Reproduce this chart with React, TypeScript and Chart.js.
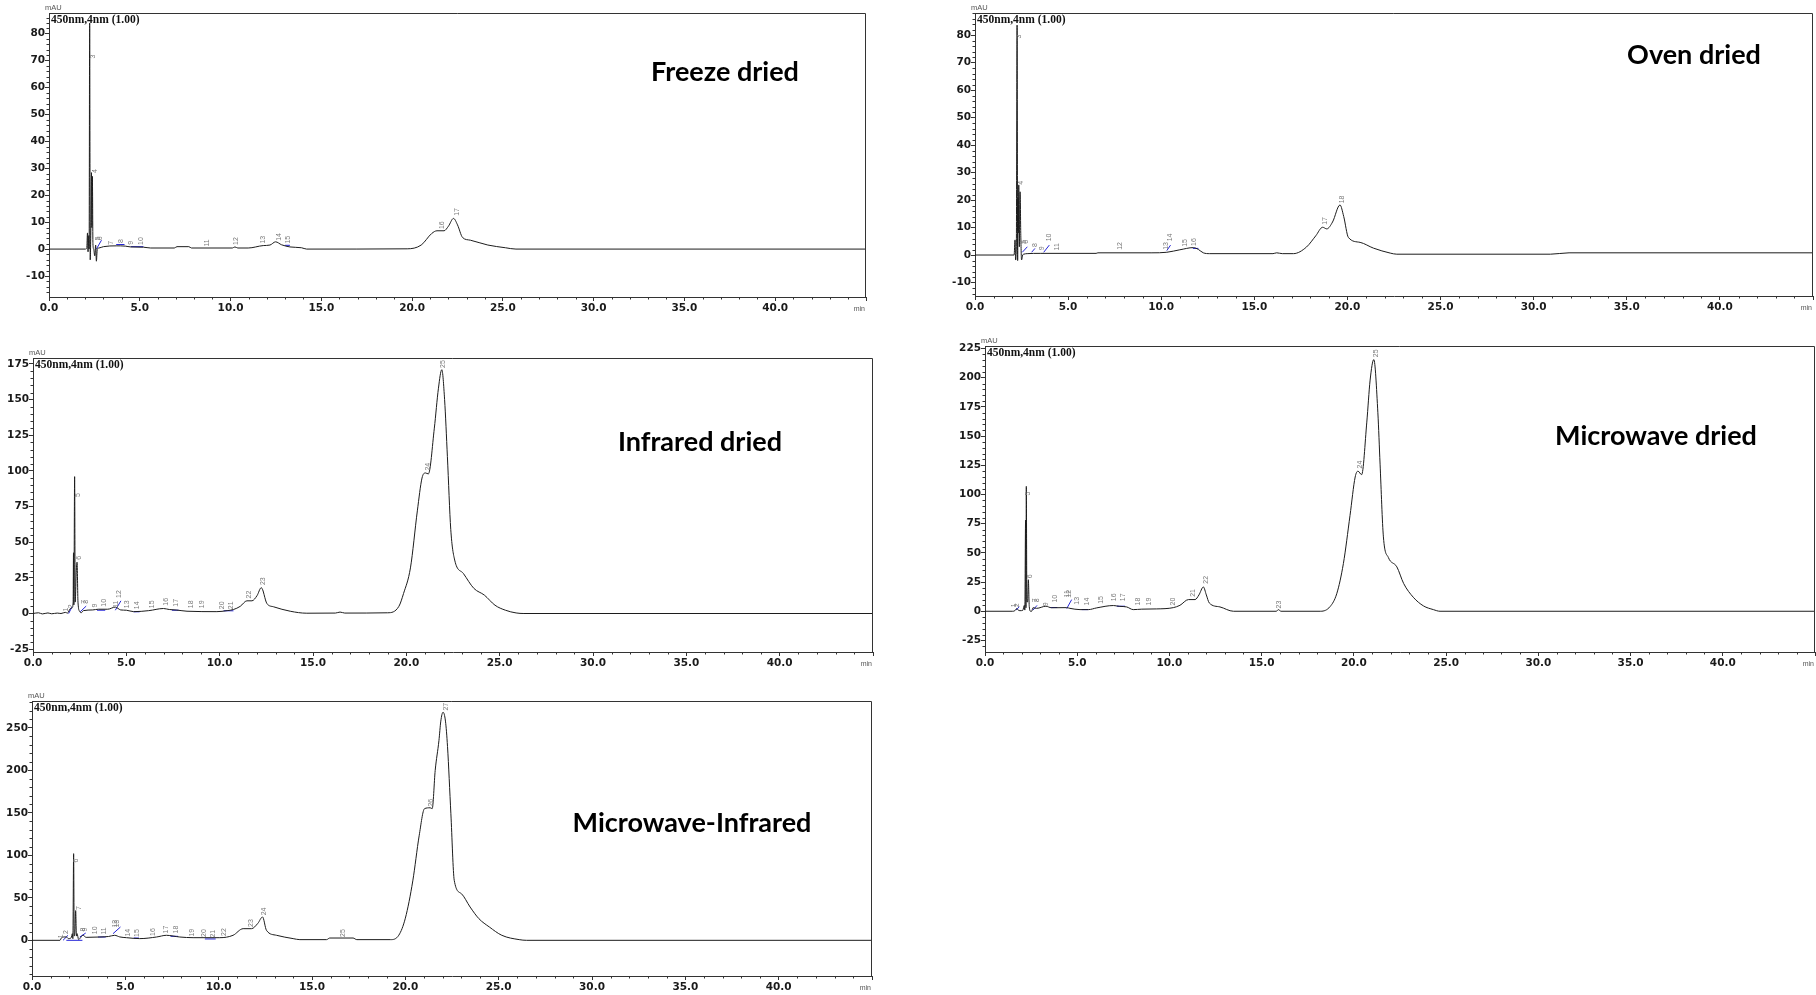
import React, { useEffect, useRef } from "react";
import { Chart, registerables } from "chart.js";
Chart.register(...registerables);

// ---------------- Freeze dried ----------------
const freezeTime = [0, 2.0, 2.08, 2.12, 2.15, 2.19, 2.21, 2.24, 2.27, 2.31, 2.34, 2.36, 2.39, 2.42, 2.46, 2.52, 2.57, 2.61, 2.66, 2.75, 3.0, 3.7, 4.2, 4.5, 5.2, 5.6, 6.9, 7.05, 7.7, 7.85, 10.1, 10.24, 10.4, 10.97, 11.8, 12.17, 12.48, 12.81, 13.27, 13.91, 14.19, 19.73, 20.5, 21.08, 21.37, 21.76, 22.0, 22.28, 22.5, 22.78, 23.21, 24.17, 25.14, 25.72, 45];
const freezeAbs = [0, 0, 0.3, 6, -1, 5, 0, 84, -4, 10, 28.4, 8, 27, 2, 0, -2.5, 1.5, -4.5, 0, 0.4, 0.9, 1.2, 1.1, 0.8, 0.7, 0.4, 0.4, 0.9, 0.9, 0.4, 0.4, 0.8, 0.4, 0.4, 1.3, 1.5, 2.7, 1.6, 0.8, 0.5, 0, 0.1, 1.5, 5.8, 6.8, 6.8, 8.5, 11.4, 9, 4.3, 3.3, 1.5, 0.5, 0, 0];
const freezeSegT0 = [2.61, 3.7, 4.5, 13.0];
const freezeSegT1 = [2.89, 4.16, 5.2, 13.27];
const freezeSegV0 = [0, 1.7, 0.9, 1.4];
const freezeSegV1 = [3.3, 1.7, 0.9, 1.4];
const freezePeakId = ["3", "4", "5", "6", "7", "8", "9", "10", "11", "12", "13", "14", "15", "16", "17"];
const freezePeakTime = [2.43, 2.52, 2.72, 2.8, 3.44, 3.95, 4.54, 5.09, 8.68, 10.33, 11.8, 12.66, 13.18, 21.66, 22.48];
const freezePeakAbs = [71.5, 29, 4, 4, 2.3, 3, 2.3, 3, 2.3, 3, 3.5, 4.5, 3.5, 8.9, 13.8];

// ---------------- Oven dried ----------------
const ovenTime = [0, 2.1, 2.15, 2.18, 2.22, 2.26, 2.29, 2.31, 2.33, 2.35, 2.38, 2.42, 2.46, 2.5, 2.56, 2.62, 2.8, 3.5, 6.5, 6.6, 9.5, 10.3, 11.0, 11.73, 12.0, 12.26, 12.6, 16.0, 16.2, 16.5, 17.1, 17.8, 18.3, 18.67, 18.89, 19.2, 19.6, 19.8, 20.05, 20.68, 21.4, 22.3, 22.65, 30.9, 31.9, 45];
const ovenAbs = [0, 0, 5.5, -1.8, 3, 83.6, -2, 20.7, 8, 25.5, 3, 23, 7, -1.8, 0, 0.3, 0.5, 0.6, 0.6, 0.8, 0.8, 1.0, 1.9, 2.7, 2, 0.8, 0.5, 0.5, 0.8, 0.5, 0.5, 2.9, 7, 10.1, 9.5, 12, 18.2, 14, 6.4, 4.6, 2.5, 0.7, 0.3, 0.3, 0.8, 0.8];
const ovenSegT0 = [2.54, 3.04, 3.69, 10.3, 11.7];
const ovenSegT1 = [2.81, 3.22, 3.99, 10.5, 12.0];
const ovenSegV0 = [1, 1, 1, 1.6, 2.4];
const ovenSegV1 = [3, 2.4, 3.6, 3.6, 2.4];
const ovenPeakId = ["3", "4", "5", "6", "8", "9", "10", "11", "12", "13", "14", "15", "16", "17", "18"];
const ovenPeakTime = [2.37, 2.46, 2.64, 2.74, 3.21, 3.62, 3.98, 4.43, 7.8, 10.25, 10.47, 11.29, 11.74, 18.82, 19.72];
const ovenPeakAbs = [79.4, 26.3, 4.8, 4.8, 3.6, 2.4, 6.4, 3, 3.3, 3.3, 6.4, 4.4, 4.7, 12.4, 20.2];

// ---------------- Infrared dried ----------------
const infraTime = [0, 0.3, 0.5, 0.8, 1.0, 1.3, 1.5, 1.73, 1.85, 2.0, 2.1, 2.15, 2.17, 2.19, 2.23, 2.26, 2.32, 2.36, 2.41, 2.5, 2.58, 2.7, 3.2, 3.5, 4.0, 4.41, 4.7, 5.0, 5.39, 6.2, 6.99, 7.3, 7.71, 8.25, 9.85, 10.4, 10.74, 11.1, 11.46, 11.73, 12.0, 12.23, 12.53, 12.89, 13.78, 14.67, 16.2, 16.45, 16.7, 19.0, 19.6, 19.85, 20.22, 20.59, 20.84, 21.02, 21.18, 21.5, 21.72, 21.9, 22.05, 22.2, 22.38, 22.59, 23.06, 23.62, 24.18, 24.75, 25.31, 25.88, 26.3, 45];
const infraAbs = [0, 0.5, -0.3, 0.4, -0.2, 0.3, 0, 0.8, 0.3, 3.5, 4, 8, 42.6, 6, 96, 8, 30, 36, 8, 1.5, 0.5, 2, 2.5, 3, 3, 4.5, 2.5, 2.3, 1.3, 2, 3.5, 2.8, 2.4, 1.6, 1.3, 2, 2.8, 5, 8.9, 8.9, 12.5, 18.1, 7, 4.7, 1.6, 0.2, 0.3, 1, 0.3, 0.5, 5, 14, 32, 72, 95, 98.6, 97.9, 130, 158, 171, 150, 110, 59, 37.5, 28, 17.6, 12.9, 5.8, 2.3, 0.4, 0, 0];
const infraSegT0 = [1.91, 2.53, 3.43, 4.41, 5.39, 7.44, 10.21];
const infraSegT1 = [2.09, 2.85, 3.87, 4.71, 5.71, 7.8, 10.74];
const infraSegV0 = [0, 1.2, 2.3, 2.3, 1.2, 2.3, 1.9];
const infraSegV1 = [4.7, 5.2, 2.3, 8.9, 1.2, 2.3, 1.9];
const infraPeakId = ["1", "2", "5", "6", "7", "8", "9", "10", "11", "12", "13", "14", "15", "16", "17", "18", "19", "20", "21", "22", "23", "24", "25"];
const infraPeakTime = [1.77, 2.03, 2.39, 2.46, 2.72, 2.82, 3.34, 3.82, 4.44, 4.62, 5.03, 5.57, 6.37, 7.12, 7.66, 8.48, 9.08, 10.12, 10.62, 11.58, 12.32, 21.14, 21.98];
const infraPeakAbs = [2.8, 5.1, 83, 39, 8.2, 8.2, 5.6, 7.5, 6.5, 13.6, 6.5, 5.8, 6.5, 8.2, 7.5, 6.5, 6.5, 5.8, 5.8, 13.3, 22.7, 103, 175];

// ---------------- Microwave dried ----------------
const microTime = [0, 1.5, 1.62, 1.72, 1.8, 1.9, 2.05, 2.13, 2.16, 2.2, 2.22, 2.24, 2.27, 2.31, 2.35, 2.4, 2.47, 2.53, 2.6, 2.8, 3.3, 3.6, 4.43, 4.6, 5.15, 5.6, 6.06, 6.96, 7.3, 7.68, 8.04, 8.5, 9.31, 10.21, 10.57, 11.03, 11.39, 11.6, 11.84, 12.0, 12.16, 12.74, 13.47, 15.8, 15.9, 16.05, 18.2, 18.71, 19.07, 19.43, 19.79, 20.07, 20.22, 20.42, 20.7, 20.88, 21.08, 21.3, 21.42, 21.6, 21.87, 22.33, 22.7, 23.22, 23.77, 24.31, 24.67, 45];
const microAbs = [0, 0, 0.5, 2.3, 1, 0.5, 0.8, 5, 1, 78, 3, 107, 8, 8, 27, 4, 0, 0, 3, 2.5, 4.3, 3, 3.1, 2.5, 1.4, 1.4, 2.9, 4.9, 4.2, 3.7, 1.4, 1.8, 2, 3.1, 5.1, 10, 10, 14, 20.8, 14, 7.1, 3.7, 0, 0, 1.4, 0, 0, 4, 15, 40.8, 82, 115, 120, 117, 162, 198, 215.6, 170, 126, 63.7, 46, 38, 23.7, 12, 4.6, 1.4, 0, 0];
const microSegT0 = [1.68, 2.6, 3.56, 4.43, 5.24, 7.14];
const microSegT1 = [1.86, 2.82, 3.92, 4.7, 5.6, 7.59];
const microSegV0 = [1, 1, 3.2, 2.3, 1.4, 4.3];
const microSegV1 = [3.8, 5, 3.2, 10, 1.4, 4.3];
const microPeakId = ["1", "2", "5", "6", "7", "8", "9", "10", "11", "12", "13", "14", "15", "16", "17", "18", "19", "20", "21", "22", "23", "24", "25"];
const microPeakTime = [1.6, 1.72, 2.35, 2.44, 2.7, 2.8, 3.31, 3.8, 4.46, 4.58, 4.97, 5.52, 6.27, 7.0, 7.5, 8.28, 8.89, 10.18, 11.26, 11.98, 15.96, 20.34, 21.19];
const microPeakAbs = [5.1, 5.1, 100.8, 30, 9.4, 9.4, 6, 10.8, 15, 15, 9, 8.3, 9.7, 12, 12, 8.3, 8.3, 8.3, 15.7, 27, 5.7, 125.6, 221];

// ---------------- Microwave-Infrared ----------------
const mirTime = [0, 1.5, 1.58, 1.7, 1.84, 1.95, 2.1, 2.16, 2.19, 2.23, 2.26, 2.3, 2.34, 2.38, 2.41, 2.5, 2.56, 2.73, 2.9, 3.63, 4.1, 4.43, 4.7, 5.06, 5.77, 6.67, 7.2, 7.92, 8.63, 10.06, 10.77, 11.31, 11.76, 12.1, 12.35, 12.56, 13.1, 13.99, 14.35, 15.78, 15.95, 17.2, 17.4, 19.2, 19.65, 20.0, 20.4, 20.74, 21.03, 21.33, 21.44, 21.6, 21.8, 21.9, 22.02, 22.15, 22.26, 22.44, 22.62, 23.0, 23.47, 23.94, 24.5, 25.17, 26.1, 26.5, 45];
const mirAbs = [0, 0, 3, 3.9, 4, 2, 3, 7.8, 2, 102, 5, 10, 35, 5, 8, 1, 2, 6, 3.5, 3.9, 4.5, 5.9, 4, 3.1, 2, 3.9, 5.9, 3.9, 3.1, 3.1, 5.9, 13.7, 13.7, 20, 27.5, 11.8, 5.9, 2, 0.8, 0.8, 2.7, 2.7, 0.8, 0.8, 6, 26, 70, 123, 155, 156, 155, 200, 235, 258, 268.5, 258, 228, 149, 70.6, 55, 39.2, 25.5, 15.7, 5.9, 0.8, 0, 0];
const mirSegT0 = [1.66, 1.84, 2.56, 3.54, 4.34, 5.45, 7.42, 9.26];
const mirSegT1 = [1.93, 2.7, 2.88, 3.95, 4.74, 5.73, 7.82, 9.84];
const mirSegV0 = [0, 0, 3.9, 3.9, 7.8, 2.7, 4.7, 1.6];
const mirSegV1 = [5.9, 0, 8.6, 3.9, 15.7, 2.7, 4.7, 1.6];
const mirPeakId = ["1", "2", "6", "7", "8", "9", "10", "11", "12", "13", "14", "15", "16", "17", "18", "19", "20", "21", "22", "23", "24", "25", "26", "27"];
const mirPeakTime = [1.58, 1.84, 2.38, 2.5, 2.72, 2.82, 3.36, 3.86, 4.46, 4.58, 5.14, 5.63, 6.48, 7.2, 7.74, 8.57, 9.2, 9.7, 10.29, 11.72, 12.43, 16.67, 21.38, 22.2];
const mirPeakAbs = [4.7, 9.8, 94, 38, 12.6, 12.6, 11.8, 11, 19.6, 19.6, 9, 8.6, 9.8, 12.6, 12.6, 9, 8.6, 7.8, 9.8, 20.4, 34, 8.6, 162, 275];

const headerText = "450nm,4nm (1.00)";

type PanelSpec = {
  title: string;
  time: number[]; abs: number[];
  segT0: number[]; segT1: number[]; segV0: number[]; segV1: number[];
  peakId: string[]; peakTime: number[]; peakAbs: number[];
  yMin: number; yMax: number; yStep: number; yMinor: number;
  L: number; T: number; R: number; B: number; yw: number; xh: number;
  titleX: number; titleY: number;
};

const panels: PanelSpec[] = [
  { title: "Freeze dried", time: freezeTime, abs: freezeAbs, segT0: freezeSegT0, segT1: freezeSegT1, segV0: freezeSegV0, segV1: freezeSegV1, peakId: freezePeakId, peakTime: freezePeakTime, peakAbs: freezePeakAbs, yMin: -17.8, yMax: 87.7, yStep: 10, yMinor: 2, L: 49, T: 13, R: 866, B: 297, yw: 49, xh: 28, titleX: 725, titleY: 71 },
  { title: "Oven dried", time: ovenTime, abs: ovenAbs, segT0: ovenSegT0, segT1: ovenSegT1, segV0: ovenSegV0, segV1: ovenSegV1, peakId: ovenPeakId, peakTime: ovenPeakTime, peakAbs: ovenPeakAbs, yMin: -14.9, yMax: 88, yStep: 10, yMinor: 2, L: 975, T: 13, R: 1813, B: 296, yw: 45, xh: 28, titleX: 1694, titleY: 54 },
  { title: "Infrared dried", time: infraTime, abs: infraAbs, segT0: infraSegT0, segT1: infraSegT1, segV0: infraSegV0, segV1: infraSegV1, peakId: infraPeakId, peakTime: infraPeakTime, peakAbs: infraPeakAbs, yMin: -27, yMax: 179.2, yStep: 25, yMinor: 5, L: 33, T: 358, R: 873, B: 652, yw: 33, xh: 28, titleX: 700, titleY: 441 },
  { title: "Microwave dried", time: microTime, abs: microAbs, segT0: microSegT0, segT1: microSegT1, segV0: microSegV0, segV1: microSegV1, peakId: microPeakId, peakTime: microPeakTime, peakAbs: microPeakAbs, yMin: -34.9, yMax: 227.2, yStep: 25, yMinor: 5, L: 985, T: 346, R: 1815, B: 652, yw: 45, xh: 28, titleX: 1656, titleY: 435 },
  { title: "Microwave-Infrared", time: mirTime, abs: mirAbs, segT0: mirSegT0, segT1: mirSegT1, segV0: mirSegV0, segV1: mirSegV1, peakId: mirPeakId, peakTime: mirPeakTime, peakAbs: mirPeakAbs, yMin: -42, yMax: 281.7, yStep: 50, yMinor: 10, L: 32, T: 701, R: 872, B: 976, yw: 32, xh: 19, titleX: 692, titleY: 822 },
];

const X_MAX = 45;
const PAD_TOP = 13;
const PAD_RIGHT = 1;
const tickFont = { family: "'DejaVu Sans'", size: 10.5, weight: "bold" as const };

function Panel({ spec }: { spec: PanelSpec }) {
  const ref = useRef<HTMLCanvasElement>(null);
  const w = spec.R - spec.L + spec.yw + PAD_RIGHT;
  const h = spec.B - spec.T + PAD_TOP + spec.xh;

  useEffect(() => {
    if (!ref.current) return;
    const main = spec.time.map((t, i) => ({ x: t, y: spec.abs[i] }));
    const segs: { x: number; y: number | null }[] = [];
    spec.segT0.forEach((t0, i) => {
      segs.push({ x: t0, y: spec.segV0[i] });
      segs.push({ x: spec.segT1[i], y: spec.segV1[i] });
      segs.push({ x: spec.segT1[i], y: null });
    });

    const decor = {
      id: "decor",
      afterDatasetsDraw(chart: any) {
        const { ctx, chartArea: a, scales } = chart;
        const xs = scales.x, ys = scales.y;
        ctx.save();
        // peak labels
        ctx.font = "7px 'Liberation Sans'";
        ctx.fillStyle = "#7a7a7a";
        ctx.textAlign = "center";
        ctx.textBaseline = "middle";
        spec.peakId.forEach((id, i) => {
          const px = xs.getPixelForValue(spec.peakTime[i]);
          const py = ys.getPixelForValue(spec.peakAbs[i]);
          ctx.save();
          ctx.translate(px, py);
          ctx.rotate(-Math.PI / 2);
          ctx.fillText(id, 0, 0);
          ctx.restore();
        });
        ctx.restore();
      },
      afterDraw(chart: any) {
        const { ctx, chartArea: a, scales } = chart;
        const xs = scales.x, ys = scales.y;
        ctx.save();
        ctx.strokeStyle = "#333";
        ctx.lineWidth = 1;
        ctx.beginPath();
        const top = Math.round(a.top) + 0.5;
        const right = Math.round(a.right) - 0.5;
        ctx.moveTo(a.left, top);
        ctx.lineTo(right, top);
        ctx.moveTo(right, top);
        ctx.lineTo(right, a.bottom);
        // minor x ticks
        for (let v = 1; v < X_MAX; v += 1) {
          if (v % 5 === 0) continue;
          const px = Math.round(xs.getPixelForValue(v)) + 0.5;
          ctx.moveTo(px, a.bottom);
          ctx.lineTo(px, a.bottom + 2.5);
        }
        // minor y ticks
        const start = Math.ceil(spec.yMin / spec.yMinor) * spec.yMinor;
        for (let v = start; v <= spec.yMax + 1e-9; v += spec.yMinor) {
          const r = Math.abs(v % spec.yStep);
          if (r < 1e-6 || Math.abs(r - spec.yStep) < 1e-6) continue;
          const py = Math.round(ys.getPixelForValue(v)) + 0.5;
          ctx.moveTo(a.left - 2.5, py);
          ctx.lineTo(a.left, py);
        }
        ctx.stroke();
        // header text
        ctx.fillStyle = "#111";
        ctx.font = "bold 11.5px 'Liberation Serif'";
        ctx.textAlign = "left";
        ctx.textBaseline = "alphabetic";
        ctx.fillText(headerText, a.left + 2, a.top + 9.5);
        // mAU
        ctx.fillStyle = "#555";
        ctx.font = "7.5px 'Liberation Sans'";
        ctx.fillText("mAU", a.left - 4, a.top - 3);
        // min
        ctx.textAlign = "right";
        ctx.font = "7px 'Liberation Sans'";
        ctx.fillText("min", a.right - 1, a.bottom + 13.5);
        ctx.restore();
      },
    };

    const chart = new Chart(ref.current, {
      type: "line",
      data: {
        datasets: [
          {
            data: main,
            borderColor: "#1c1c1c",
            borderWidth: 1,
            pointRadius: 0,
            fill: false,
            cubicInterpolationMode: "monotone",
          },
          {
            data: segs as any,
            borderColor: "#2525d8",
            borderWidth: 1,
            pointRadius: 0,
            fill: false,
            spanGaps: false,
          },
        ],
      },
      options: {
        animation: false,
        responsive: false,
        maintainAspectRatio: false,
        devicePixelRatio: 1,
        events: [],
        layout: { padding: { top: PAD_TOP, right: PAD_RIGHT, left: 0, bottom: 0 } },
        plugins: { legend: { display: false }, tooltip: { enabled: false }, title: { display: false } },
        scales: {
          x: {
            type: "linear",
            min: 0,
            max: X_MAX,
            afterFit: (s: any) => { s.height = spec.xh; },
            ticks: {
              stepSize: 5,
              autoSkip: false,
              maxRotation: 0,
              minRotation: 0,
              includeBounds: false,
              padding: 1,
              color: "#1a1a1a",
              font: tickFont,
              callback: (v: any) => (Number(v) <= 40 ? Number(v).toFixed(1) : ""),
            },
            grid: { drawOnChartArea: false, drawTicks: true, tickLength: 4, tickColor: "#333", tickWidth: 1 },
            border: { display: true, color: "#333", width: 1 },
          },
          y: {
            type: "linear",
            min: spec.yMin,
            max: spec.yMax,
            afterFit: (s: any) => { s.width = spec.yw; },
            ticks: {
              stepSize: spec.yStep,
              includeBounds: false,
              autoSkip: false,
              padding: 0,
              color: "#1a1a1a",
              font: tickFont,
              callback: (v: any) => String(v),
            },
            grid: { drawOnChartArea: false, drawTicks: true, tickLength: 4, tickColor: "#333", tickWidth: 1 },
            border: { display: true, color: "#333", width: 1 },
          },
        },
      } as any,
      plugins: [decor],
    });
    return () => chart.destroy();
  }, []);

  return (
    <>
      <canvas
        ref={ref}
        width={w}
        height={h}
        style={{ position: "absolute", left: spec.L - spec.yw, top: spec.T - PAD_TOP, width: w, height: h }}
      />
      <div
        style={{
          position: "absolute",
          left: spec.titleX,
          top: spec.titleY,
          transform: "translate(-50%, -50%)",
          fontFamily: "Lato",
          fontWeight: 700,
          fontSize: 27,
          lineHeight: 1.2,
          whiteSpace: "nowrap",
          color: "#000",
        }}
      >
        {spec.title}
      </div>
    </>
  );
}

export default function App() {
  return (
    <div
      style={{
        position: "fixed",
        left: 0,
        top: 0,
        width: 1816,
        height: 995,
        overflow: "hidden",
        background: "#fff",
      }}
    >
      {panels.map((p) => (
        <Panel key={p.title} spec={p} />
      ))}
    </div>
  );
}
